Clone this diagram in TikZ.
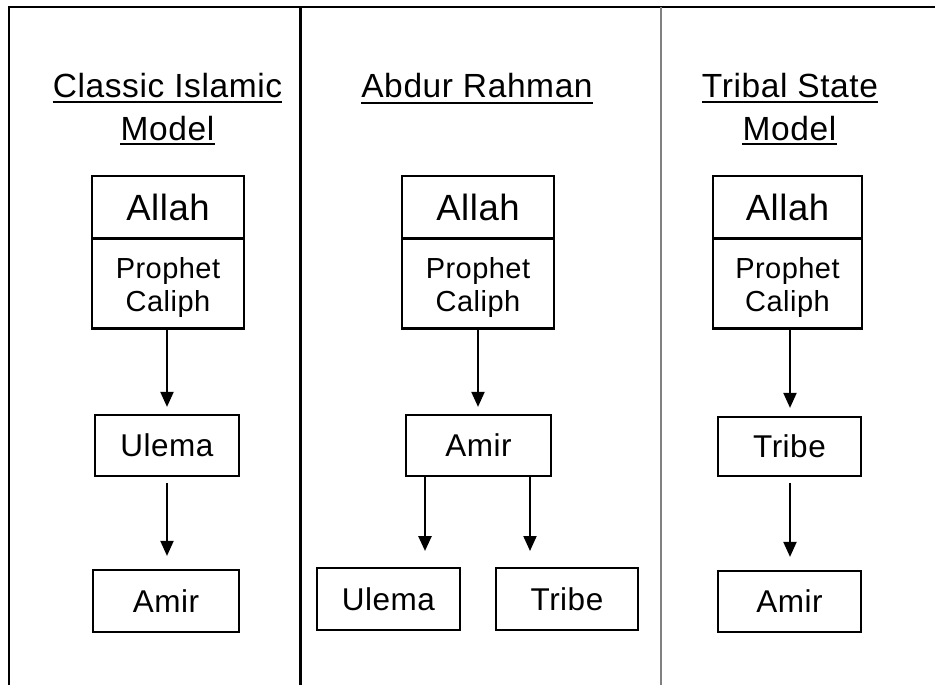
\documentclass[tikz,border=0pt]{standalone}
\usepackage{fontspec}
\setmainfont[LetterSpace=1.6]{Liberation Sans}
\newfontfamily\headfont[LetterSpace=1.8]{Liberation Sans}
\usetikzlibrary{arrows.meta}

\tikzset{
  box/.style={draw=black, line width=2.2pt, rectangle, inner sep=0pt,
    font=\fontsize{31.5}{36}\selectfont},
  bigbox/.style={box, minimum width=152pt, minimum height=63pt,
    font=\fontsize{36.5}{40}\selectfont},
  subbox/.style={box, minimum width=152pt, minimum height=90pt},
  subtext/.style={align=center, inner sep=0pt,
    font=\fontsize{29}{32.5}\selectfont},
  smallbox/.style={box, minimum width=144pt, minimum height=61pt},
  heading/.style={anchor=base, inner sep=0pt, font=\headfont\fontsize{33.5}{36}\selectfont},
  uline/.style={line width=2pt},
  arr/.style={line width=2pt, -{Triangle[width=13pt,length=15pt]}},
  frame/.style={line width=2.6pt, black},
  divider/.style={line width=2pt, black!50}
}

\begin{document}
\begin{tikzpicture}[x=1pt, y=-1pt]
\useasboundingbox (0,0) rectangle (935,685);

% page frame and column separators
\coordinate (tl) at (9,7);
\coordinate (tr) at (935,7);
\coordinate (bl) at (9,685);
\coordinate (m1t) at (300,7);
\coordinate (m1b) at (300,685);
\coordinate (m2t) at (661,7);
\coordinate (m2b) at (661,685);
\draw[frame] (bl) -- (tl) -- (tr);
\draw[frame, line width=3pt] (m1t) -- (m1b);
\draw[divider] (m2t) -- (m2b);

% headings
\node[heading] (h1a) at (167.5,97) {Classic Islamic};
\node[heading] (h1b) at (167.5,140) {Model};
\node[heading] (h2a) at (477,98) {Abdur Rahman};
\node[heading] (h3a) at (790,97) {Tribal State};
\node[heading] (h3b) at (789.5,140) {Model};
\foreach \h/\d in {h1a/5.5, h1b/4, h2a/5, h3a/5.5, h3b/4}{
  \draw[uline] ([yshift=-\d pt]\h.base west) -- ([yshift=-\d pt]\h.base east);
}

% Classic Islamic model
\node[bigbox] (allah1) at (168,207.5) {Allah};
\node[subbox] (proph1) at (168,283.5) {};
\node[subtext] (proph1t) at ([yshift=-4pt]proph1.center) {Prophet\\Caliph};
\node[smallbox] (ulema1) at (167,445.5) {Ulema};
\node[smallbox, minimum width=146pt, minimum height=62pt] (amir1) at (166,601) {Amir};
\draw[arr, shorten >=7pt] (proph1.south -| 167,0) -- (ulema1.north -| 167,0);
\draw[arr, shorten <=6pt, shorten >=13pt] (ulema1.south -| 167,0) -- (amir1.north -| 167,0);

% Abdur Rahman
\node[bigbox] (allah2) at (478,207.5) {Allah};
\node[subbox] (proph2) at (478,283.5) {};
\node[subtext] (proph2t) at ([yshift=-4pt]proph2.center) {Prophet\\Caliph};
\node[smallbox, minimum width=145pt] (amir2) at (478.5,445.5) {Amir};
\node[smallbox, minimum width=143pt, minimum height=62pt] (ulema2) at (388.5,599) {Ulema};
\node[smallbox, minimum width=142pt, minimum height=62pt] (tribe2) at (567,599) {Tribe};
\coordinate (u2tip) at (425,551);
\coordinate (t2tip) at (530,551);
\draw[arr, shorten >=7pt] (proph2.south -| 478,0) -- (amir2.north -| 478,0);
\draw[arr, line width=2.6pt] (amir2.south -| u2tip) -- (u2tip);
\draw[arr] (amir2.south -| t2tip) -- (t2tip);

% Tribal State model
\node[bigbox, minimum width=149pt] (allah3) at (787.5,207.5) {Allah};
\node[subbox, minimum width=149pt] (proph3) at (787.5,283.5) {};
\node[subtext] (proph3t) at ([yshift=-4pt]proph3.center) {Prophet\\Caliph};
\node[smallbox, minimum width=143pt, minimum height=59pt] (tribe3) at (789.5,446.5) {Tribe};
\node[smallbox, minimum width=143pt, minimum height=61pt] (amir3) at (789.5,601.5) {Amir};
\draw[arr, shorten >=8pt] (proph3.south -| 790,0) -- (tribe3.north -| 790,0);
\draw[arr, shorten <=6pt, shorten >=13pt] (tribe3.south -| 790,0) -- (amir3.north -| 790,0);
\end{tikzpicture}
\end{document}
